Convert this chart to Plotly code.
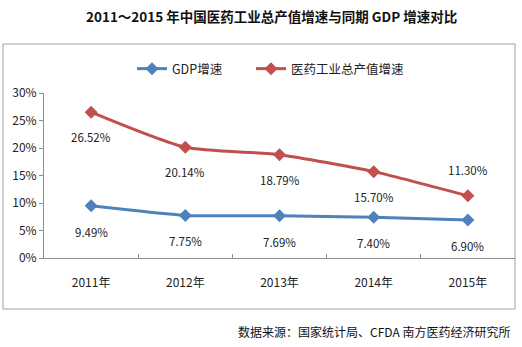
import plotly.graph_objects as go

categories = ["2011年", "2012年", "2013年", "2014年", "2015年"]
gdp_growth = [0.0949, 0.0775, 0.0769, 0.0740, 0.0690]
pharma_growth = [0.2652, 0.2014, 0.1879, 0.1570, 0.1130]
gdp_labels = ["9.49%", "7.75%", "7.69%", "7.40%", "6.90%"]
pharma_labels = ["26.52%", "20.14%", "18.79%", "15.70%", "11.30%"]
pharma_label_above = [False, False, False, False, True]

BLUE = "#4F81BD"
RED = "#C0504D"
FONT = "Noto Sans CJK SC"

W, H = 522, 347
L, R, T, B = 44, 7, 93, 89
pw, ph = W - L - R, H - T - B

def px_x(x):
    return (x - L) / pw

def px_y(y):
    return (H - B - y) / ph

fig = go.Figure()
fig.add_trace(go.Scatter(
    x=categories, y=gdp_growth, name="GDP增速", mode="lines+markers",
    line=dict(color=BLUE, width=3, shape="spline", smoothing=0.6),
    marker=dict(symbol="diamond", size=10, color=BLUE),
    legend="legend",
))
fig.add_trace(go.Scatter(
    x=categories, y=pharma_growth, name="医药工业总产值增速", mode="lines+markers",
    line=dict(color=RED, width=3, shape="spline", smoothing=0.6),
    marker=dict(symbol="diamond", size=10, color=RED),
    legend="legend2",
))

annotations = []
for c, v, t in zip(categories, gdp_growth, gdp_labels):
    annotations.append(dict(x=c, y=v, text=t, showarrow=False, yshift=-26,
                            font=dict(family=FONT, size=11.5, color="#222")))
for c, v, t, above in zip(categories, pharma_growth, pharma_labels, pharma_label_above):
    annotations.append(dict(x=c, y=v, text=t, showarrow=False, yshift=26 if above else -25,
                            font=dict(family=FONT, size=11.5, color="#222")))

annotations.append(dict(
    xref="paper", yref="paper", x=px_x(271), y=px_y(16), xanchor="center", yanchor="middle",
    text="<b>2011～2015 年中国医药工业总产值增速与同期 GDP 增速对比</b>", showarrow=False,
    font=dict(family=FONT, size=13.5, color="#111"),
))
annotations.append(dict(
    xref="paper", yref="paper", x=px_x(512), y=px_y(331), xanchor="right", yanchor="middle",
    text="数据来源：国家统计局、CFDA 南方医药经济研究所", showarrow=False,
    font=dict(family=FONT, size=12, color="#111"),
))

legend_common = dict(orientation="h", xanchor="left", yanchor="middle",
                     font=dict(family=FONT, size=12.5, color="#222"),
                     bgcolor="rgba(0,0,0,0)", itemwidth=30)

fig.update_layout(
    width=W, height=H,
    margin=dict(l=L, r=R, t=T, b=B),
    paper_bgcolor="white", plot_bgcolor="white",
    font=dict(family=FONT, size=12, color="#222"),
    showlegend=True,
    legend=dict(x=px_x(132), y=px_y(69), **legend_common),
    legend2=dict(x=px_x(251), y=px_y(69), **legend_common),
    annotations=annotations,
    shapes=[dict(type="rect", xref="paper", yref="paper",
                 x0=px_x(3), x1=px_x(515), y0=px_y(309), y1=px_y(44),
                 line=dict(color="#a0a0a0", width=1), layer="below")],
)
fig.update_xaxes(
    type="category", showgrid=False, showline=True, linecolor="#8c8c8c", linewidth=1,
    ticks="inside", ticklen=4, tickcolor="#8c8c8c", tickson="boundaries",
    tickfont=dict(family=FONT, size=12, color="#222"), ticklabelstandoff=14,
    range=[-0.5, 4.5],
)
fig.update_yaxes(
    range=[0, 0.30], dtick=0.05, tickformat=".0%", showgrid=False, showline=True,
    linecolor="#8c8c8c", linewidth=1, ticks="outside", ticklen=4, tickcolor="#8c8c8c",
    tickfont=dict(family=FONT, size=12, color="#222"), zeroline=False,
)

fig.write_html("out.html")
